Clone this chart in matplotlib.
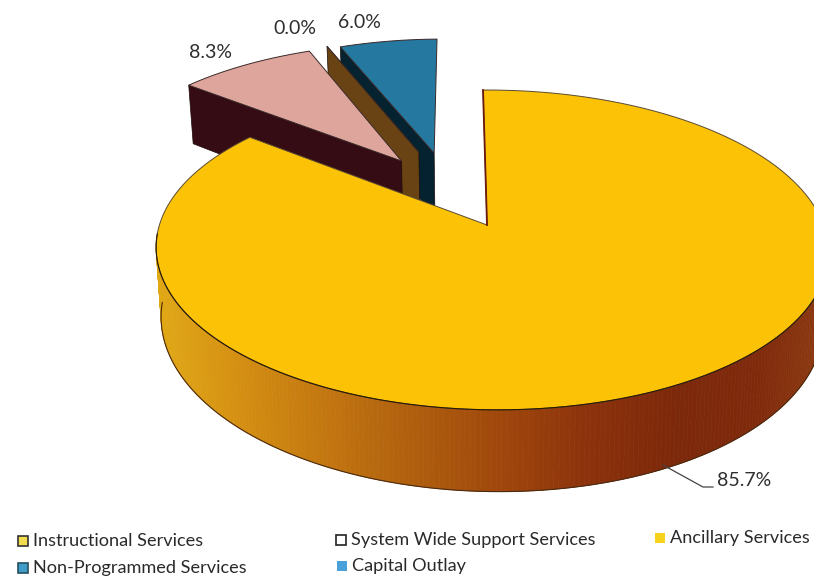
import numpy as np
from matplotlib import pyplot as plt
from matplotlib.collections import PolyCollection
from matplotlib.patches import Polygon, Rectangle

# Pie shares, clockwise from twelve o'clock
shares = [85.7, 8.3, 0.0, 6.0]
share_labels = ["85.7%", "8.3%", "0.0%", "6.0%"]
top_colors = ["#fcc206", "#dea59c", "#6b4a12", "#25789f"]
wall_colors = ["#7a1f10", "#360c14", "#6a4314", "#04222f"]
label_spots = [(744, 480), (211, 52), (295, 28), (359, 22)]

legend_labels = ["Instructional Services", "System Wide Support Services", "Ancillary Services",
                 "Non-Programmed Services", "Capital Outlay"]
legend_fill = ["#f4dc50", "#ffffff", "#f6d21c", "#3f9cc8", "#4aa0d8"]
legend_edge = ["#333333", "#222222", "none", "#26505f", "none"]
legend_spots = [(23, 541), (341, 540), (660, 538), (23, 568), (342, 566)]

# Pulled out slices: shift of the apex in the pie plane, and rim radius
shift_u = [0.0, -0.27, -0.215, -0.165]
shift_v = [0.0, 0.44, 0.505, 0.497]
radius = [1.0, 0.99, 0.97, 0.97]

# Perspective of the pie plane, in pixels
X0, Y0 = 487, 225
BX, AY = 332, 156
KV, MU, SKEW = 0.156, -0.0135, -4.6
DEPTH, SHRINK = 69, 0.985

# Side wall shading from left to right
side_x = [150, 230, 320, 410, 500, 590, 680, 760, 830]
side_rgb = np.array([[226, 170, 22], [214, 146, 18], [196, 120, 16], [176, 96, 14], [160, 72, 12],
                     [140, 50, 12], [124, 40, 10], [128, 42, 12], [140, 58, 16]]) / 255


def project(u, v, lower=False):
    s = 1 / (1 + KV * v + MU * u)
    x = X0 + (BX * u + SKEW * v) * s
    y = Y0 - AY * v * s
    if lower:
        x = X0 + (x - X0) * SHRINK
        y = y + DEPTH * s
    return x, y


def side_color(x):
    return [np.interp(x, side_x, side_rgb[:, i]) for i in range(3)]


fig = plt.figure(figsize=(8.14, 5.81), dpi=100)
ax = fig.add_axes([0, 0, 1, 1])
ax.set_xlim(0, 814)
ax.set_ylim(581, 0)
ax.axis("off")

# Work out start and end angle of each slice
sweeps = np.array(shares) / 100 * 360
ends = 90 - np.cumsum(sweeps)
starts = ends + sweeps

# Painter's order: far slices first, big slice last
for i in [3, 2, 1, 0]:
    eu, ev = shift_u[i], shift_v[i]
    theta = np.radians(np.linspace(starts[i], ends[i], 400))
    u, v = eu + radius[i] * np.cos(theta), ev + radius[i] * np.sin(theta)

    tx, ty = project(u, v)
    bx, by = project(u, v, lower=True)
    apex_x, apex_y = project(eu, ev)
    if i == 0:
        # rim wall, split in thin strips for the shading
        front = np.sin(theta) < -0.05
        fx, fy, gx, gy = tx[front], ty[front], bx[front], by[front]
        quads = [[(fx[j], fy[j]), (fx[j + 1], fy[j + 1]), (gx[j + 1], gy[j + 1]), (gx[j], gy[j])]
                 for j in range(len(fx) - 1)]
        cols = [side_color(q[0][0]) for q in quads]
        ax.add_collection(PolyCollection(quads, facecolors=cols, edgecolors=cols, linewidths=0.5, zorder=1))
        ax.plot(gx, gy, color="#4a2a10", lw=0.8, zorder=2)
    else:
        # cut wall on the near side of the slice
        low_x, low_y = project(eu, ev, lower=True)
        ax.add_patch(Polygon([(tx[0], ty[0]), (apex_x, apex_y), (low_x, low_y), (bx[0], by[0])],
                             facecolor=wall_colors[i], edgecolor="#1a0a0a", lw=0.5, zorder=1))

    # flat top
    pts = np.vstack([[apex_x, apex_y], np.column_stack([tx, ty])])
    edge = "#5a4a30" if i == 0 else "#3a2a2a"
    ax.add_patch(Polygon(pts, closed=True, facecolor=top_colors[i], edgecolor=edge, lw=0.7, zorder=2))

    if i == 0:
        # thin wall showing along the open side of the big slice
        ax.plot([tx[0], apex_x], [ty[0], apex_y], color="#6a1a10", lw=1.3, zorder=3)
        ax.plot(fx, fy, color="#2a1a08", lw=0.8, zorder=3)

for label, spot in zip(share_labels, label_spots):
    ax.text(spot[0], spot[1], label, family="Lato", fontsize=14, color="#2e2e2e",
            ha="center", va="center", zorder=5)

# Leader line for the large slice
ax.plot([663, 703, 713], [465, 487, 487], color="#444444", lw=0.9, zorder=4)

for label, fill, edge, spot in zip(legend_labels, legend_fill, legend_edge, legend_spots):
    ax.add_patch(Rectangle((spot[0] - 5, spot[1] - 5), 10, 10, facecolor=fill, edgecolor=edge, lw=1.2, zorder=4))
    ax.text(spot[0] + 10, spot[1], label, family="Lato", fontsize=13.1, color="#2a2a2a",
            ha="left", va="center", zorder=5)

fig.savefig("out.png", dpi=100)
